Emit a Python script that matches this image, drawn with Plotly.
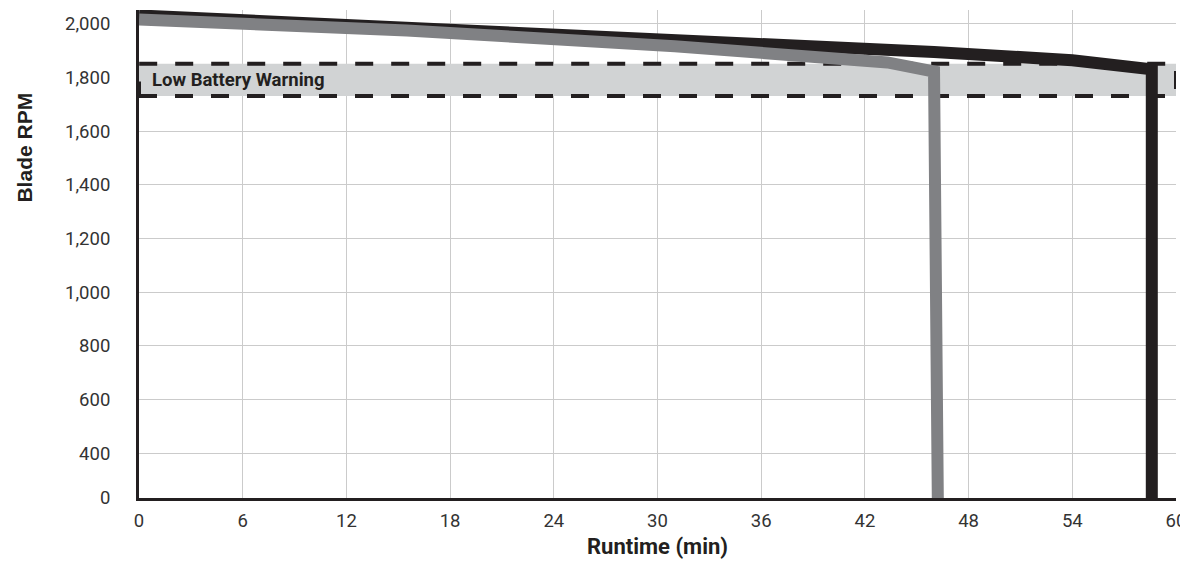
import plotly.graph_objects as go

# ---- data ----
x_ticks = [0, 6, 12, 18, 24, 30, 36, 42, 48, 54, 60]
y_tickvals = [232.5, 400, 600, 800, 1000, 1200, 1400, 1600, 1800, 2000]
y_ticktext = ["0", "400", "600", "800", "1,000", "1,200", "1,400", "1,600", "1,800", "2,000"]

black_x = [0, 15.5, 31, 46, 54, 58.6, 58.6]
black_y = [2031, 1987, 1946, 1895, 1864, 1830, 0]

gray_x = [0, 15.5, 31, 37.9, 43.3, 46.0, 46.25]
gray_y = [2016, 1975, 1916, 1882, 1856, 1822, 0]

warn_low = 1731
warn_high = 1851
warn_label = "Low Battery Warning"

x_title = "Runtime (min)"
y_title = "Blade RPM"

DARK = "#231f20"
GRAY = "#808184"
BAND = "#d1d3d4"
GRID = "#cbcbcb"

fig = go.Figure()
fig.add_trace(go.Scatter(x=black_x, y=black_y, mode="lines",
                         line=dict(color=DARK, width=12), showlegend=False,
                         hoverinfo="skip"))
fig.add_trace(go.Scatter(x=gray_x, y=gray_y, mode="lines",
                         line=dict(color=GRAY, width=12), showlegend=False,
                         hoverinfo="skip"))

fig.add_shape(type="rect", xref="x", yref="y", x0=0, x1=60,
              y0=warn_low, y1=warn_high, layer="between",
              fillcolor=BAND, line=dict(color=DARK, width=4, dash="18px,18px"))

fig.add_annotation(x=0, y=(warn_low + warn_high) / 2, xref="x", yref="y",
                   text="<b>" + warn_label + "</b>", showarrow=False,
                   xanchor="left", yanchor="middle", xshift=11,
                   font=dict(family="Roboto", size=18.5, color=DARK))

fig.add_annotation(x=-0.110, y=0.718, xref="paper", yref="paper",
                   text="<b>" + y_title + "</b>", showarrow=False, textangle=-90,
                   xanchor="center", yanchor="middle",
                   font=dict(family="Liberation Sans", size=21, color=DARK))

fig.add_annotation(x=0.5, y=-0.0996, xref="paper", yref="paper",
                   text="<b>" + x_title + "</b>", showarrow=False,
                   xanchor="center", yanchor="middle",
                   font=dict(family="Roboto", size=22, color=DARK))

# page body has an 8px margin: figure is 1180x558 so it fills the 1188x566 window
fig.update_layout(
    width=1180, height=558,
    margin=dict(l=131, r=12, t=1.5, b=67.7, pad=0),
    paper_bgcolor="white", plot_bgcolor="white",
    font=dict(family="Roboto", size=18.5, color="#333333"),
    showlegend=False,
)
fig.update_xaxes(range=[0, 60], tickvals=x_ticks, showgrid=True, gridcolor=GRID,
                 gridwidth=1.2, showline=True, linecolor=DARK, linewidth=3,
                 zeroline=False, ticks="", ticklabelstandoff=4, automargin=False,
                 ticklabeloverflow="allow")
fig.update_yaxes(range=[232.5, 2051.3], tickvals=y_tickvals, ticktext=y_ticktext,
                 showgrid=True, gridcolor=GRID, gridwidth=1.2, showline=True,
                 linecolor=DARK, linewidth=3, zeroline=False, ticks="",
                 ticklabelstandoff=22, automargin=False)

fig.write_html("out.html")
